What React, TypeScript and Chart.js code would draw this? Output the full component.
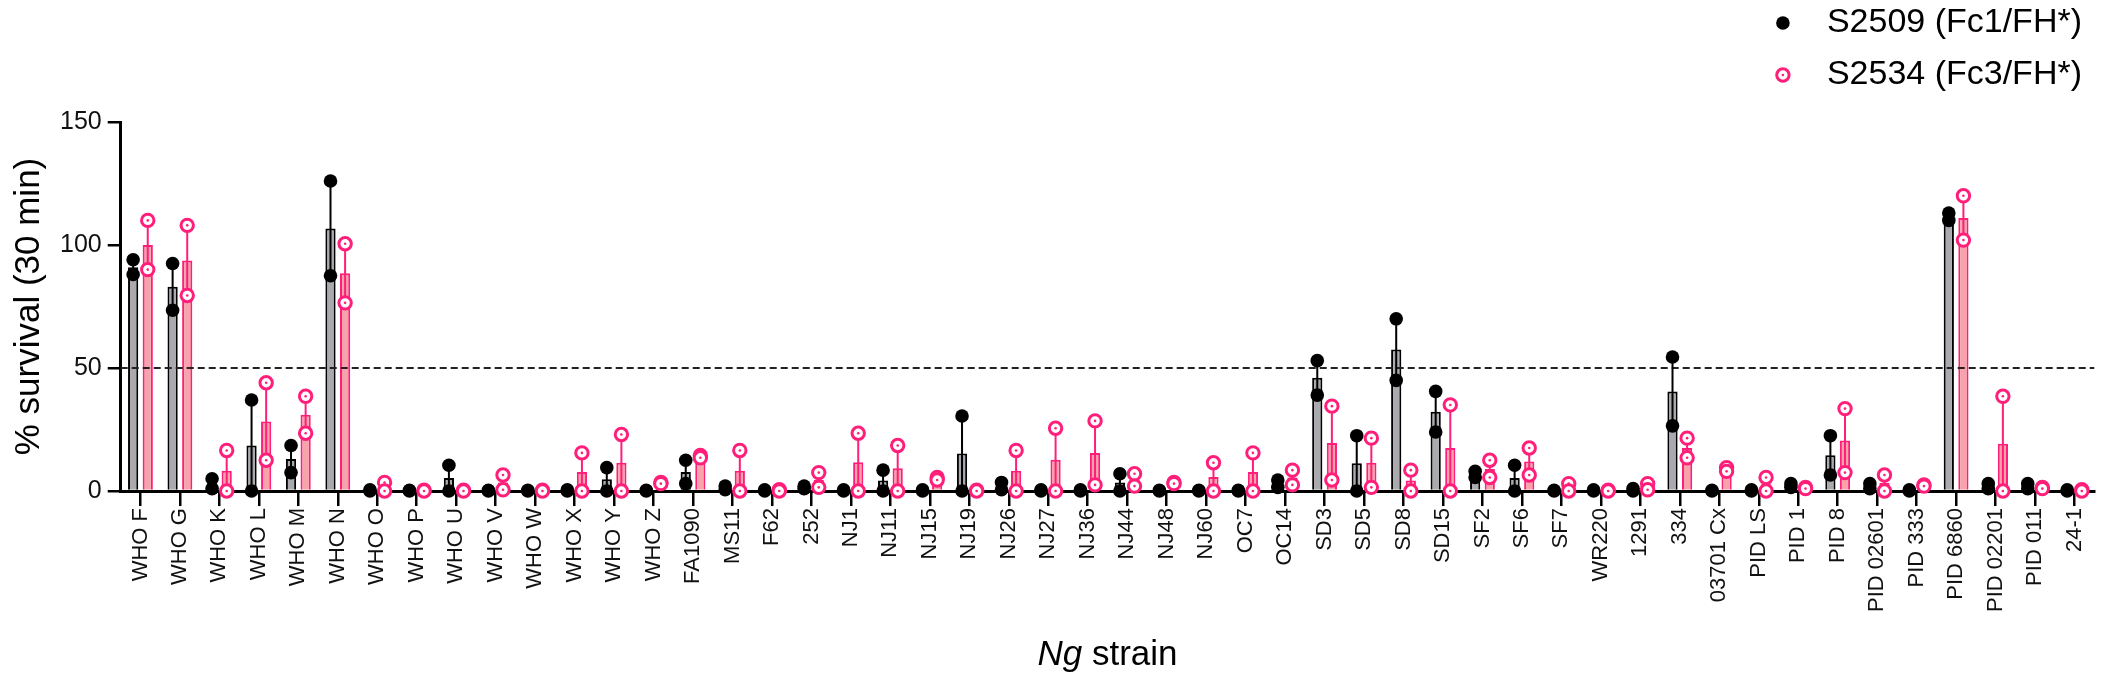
import { useEffect, useRef } from "react";
import { Chart, registerables } from "chart.js";

Chart.register(...registerables);

// Ng strains on the x axis
const strains = [
  "WHO F", "WHO G", "WHO K", "WHO L", "WHO M", "WHO N", "WHO O", "WHO P",
  "WHO U", "WHO V", "WHO W", "WHO X", "WHO Y", "WHO Z", "FA1090", "MS11",
  "F62", "252", "NJ1", "NJ11", "NJ15", "NJ19", "NJ26", "NJ27", "NJ36",
  "NJ44", "NJ48", "NJ60", "OC7", "OC14", "SD3", "SD5", "SD8", "SD15", "SF2",
  "SF6", "SF7", "WR220", "1291", "334", "03701 Cx", "PID LS", "PID 1",
  "PID 8", "PID 02601", "PID 333", "PID 6860", "PID 02201", "PID 011", "24-1",
];

// two replicates per strain, % survival at 30 min
const s2509Rep1 = [
  94, 92.5, 5, 37, 18.5, 126, 0.5, 0.3, 10.5, 0.3, 0.3, 0.5, 9.5, 0.3, 12.5, 2,
  0.5, 2, 0.5, 8.5, 0.5, 30.5, 3.5, 0.5, 0.5, 7, 0.3, 0.3, 0.3, 4.5, 53, 22.5,
  70, 40.5, 8, 10.5, 0.3, 0.5, 1, 54.5, 0.3, 0.5, 3, 22.5, 3, 0.5, 113, 3, 3, 0.5,
];
const s2509Rep2 = [
  88, 73.5, 1, 0, 7.5, 87.5, 0, 0, 0, 0, 0, 0, 0, 0, 3, 0.5,
  0, 1, 0, 0, 0, 0, 0.5, 0, 0, 0, 0, 0, 0, 1.5, 39, 0,
  45, 24, 5.5, 0, 0, 0, 0, 26.5, 0, 0, 1.5, 6.5, 1, 0, 110, 1, 1, 0,
];
const s2534Rep1 = [
  110, 108, 16.5, 44, 38.5, 100.5, 3.5, 0.3, 0.3, 6.5, 0.3, 15.5, 23, 3.5, 14.5, 16.5,
  0.5, 7.5, 23.5, 18.5, 5.5, 0.3, 16.5, 25.5, 28.5, 7, 3.5, 11.5, 15.5, 8.5, 34.5, 21.5,
  8.5, 35, 12.5, 17.5, 3, 0.3, 3, 21.5, 9.5, 5.5, 1.5, 33.5, 6.5, 2.5, 120, 38.5, 1.5, 0.5,
];
const s2534Rep2 = [
  90, 79.5, 0, 12.5, 23.5, 76.5, 0, 0, 0, 0.5, 0, 0, 0, 3, 13.5, 0,
  0, 1.5, 0, 0, 4.5, 0, 0, 0, 2.5, 2, 3, 0, 0, 2.5, 4.5, 1.5,
  0, 0, 5.5, 6.5, 0, 0, 0.5, 13.5, 8, 0, 1, 7.5, 0, 2, 102, 0, 1, 0,
];

const yTicks = [0, 50, 100, 150];
const threshold = 50;

const FONT = '"Liberation Sans", Arial, sans-serif';

const series = [
  {
    label: "S2509 (Fc1/FH*)",
    reps: [s2509Rep1, s2509Rep2],
    fill: "#a9a9ae",
    edge: "#000000",
    hollow: false,
  },
  {
    label: "S2534 (Fc3/FH*)",
    reps: [s2534Rep1, s2534Rep2],
    fill: "#f6a3aa",
    edge: "#ff1f7a",
    hollow: true,
  },
];

const mean = (a: number, b: number) => (a + b) / 2;
const sem = (a: number, b: number) => Math.abs(a - b) / 2;

function drawMarker(ctx: CanvasRenderingContext2D, x: number, y: number, s: (typeof series)[number]) {
  ctx.beginPath();
  if (s.hollow) {
    ctx.arc(x, y, 6.2, 0, Math.PI * 2);
    ctx.fillStyle = "#ffffff";
    ctx.fill();
    ctx.lineWidth = 3;
    ctx.strokeStyle = s.edge;
    ctx.stroke();
    ctx.beginPath();
    ctx.arc(x, y, 1.3, 0, Math.PI * 2);
    ctx.fillStyle = s.edge;
    ctx.fill();
  } else {
    ctx.arc(x, y, 6.8, 0, Math.PI * 2);
    ctx.fillStyle = s.edge;
    ctx.fill();
  }
}

const overlay = {
  id: "overlay",
  afterDatasetsDraw(chart: Chart) {
    const { ctx, chartArea } = chart;
    const y = chart.scales.y;

    // 50% threshold
    ctx.save();
    ctx.setLineDash([7, 4]);
    ctx.lineWidth = 2;
    ctx.strokeStyle = "#222";
    ctx.beginPath();
    ctx.moveTo(chartArea.left, y.getPixelForValue(threshold));
    ctx.lineTo(chartArea.right, y.getPixelForValue(threshold));
    ctx.stroke();
    ctx.restore();

    ctx.save();
    series.forEach((s, si) => {
      const meta = chart.getDatasetMeta(si);
      meta.data.forEach((bar: any, i: number) => {
        const a = s.reps[0][i];
        const b = s.reps[1][i];
        const m = mean(a, b);
        const e = sem(a, b);
        const top = y.getPixelForValue(m + e);
        const low = y.getPixelForValue(m - e);
        ctx.strokeStyle = s.edge;
        ctx.lineWidth = 2;
        ctx.beginPath();
        ctx.moveTo(bar.x, low);
        ctx.lineTo(bar.x, top);
        ctx.moveTo(bar.x - 4, top);
        ctx.lineTo(bar.x + 4, top);
        ctx.stroke();
      });
    });
    series.forEach((s, si) => {
      const meta = chart.getDatasetMeta(si);
      meta.data.forEach((bar: any, i: number) => {
        s.reps.forEach((rep) => drawMarker(ctx, bar.x, y.getPixelForValue(rep[i]), s));
      });
    });
    ctx.restore();
  },
  afterDraw(chart: Chart) {
    const { ctx, chartArea } = chart;
    ctx.save();

    // legend, top right
    ctx.font = `34px ${FONT}`;
    ctx.textBaseline = "middle";
    ctx.textAlign = "left";
    const widest = Math.max(...series.map((s) => ctx.measureText(s.label).width));
    const textX = chart.width - 21 - widest;
    series.forEach((s, i) => {
      const rowY = 23 + i * 52;
      drawMarker(ctx, textX - 44, rowY, s);
      ctx.fillStyle = "#000";
      ctx.font = `34px ${FONT}`;
      ctx.fillText(s.label, textX, rowY);
    });

    // x axis title with italic "Ng"
    const italic = `italic 35px ${FONT}`;
    const plain = `35px ${FONT}`;
    ctx.font = italic;
    const w1 = ctx.measureText("Ng").width;
    ctx.font = plain;
    const w2 = ctx.measureText(" strain").width;
    const cx = (chartArea.left + chartArea.right) / 2;
    const start = cx - (w1 + w2) / 2;
    const ty = chart.height - 26;
    ctx.fillStyle = "#000";
    ctx.font = italic;
    ctx.fillText("Ng", start, ty);
    ctx.font = plain;
    ctx.fillText(" strain", start + w1, ty);
    ctx.restore();
  },
};

export default function App() {
  const canvasRef = useRef<HTMLCanvasElement | null>(null);
  const chartRef = useRef<Chart | null>(null);

  useEffect(() => {
    document.body.style.margin = "0";
    if (!canvasRef.current) {
      return;
    }
    if (chartRef.current) {
      chartRef.current.destroy();
    }

    chartRef.current = new Chart(canvasRef.current, {
      type: "bar",
      data: {
        labels: strains,
        datasets: series.map((s) => ({
          label: s.label,
          data: s.reps[0].map((v, i) => mean(v, s.reps[1][i])),
          backgroundColor: s.fill,
          borderColor: s.edge,
          borderWidth: 2,
          categoryPercentage: 0.74,
          barPercentage: 0.7,
        })),
      },
      options: {
        animation: false,
        responsive: true,
        maintainAspectRatio: false,
        devicePixelRatio: 1,
        layout: { padding: { top: 122, right: 8, bottom: 67, left: 8 } },
        plugins: {
          legend: { display: false },
          tooltip: { enabled: false },
        },
        scales: {
          x: {
            grid: {
              display: true,
              offset: false,
              drawOnChartArea: false,
              drawTicks: true,
              tickLength: 15,
              color: "#000",
              lineWidth: 2.5,
            },
            border: { display: true, color: "#000", width: 3 },
            ticks: {
              autoSkip: false,
              minRotation: 90,
              maxRotation: 90,
              padding: 2,
              color: "#111",
              font: { family: FONT, size: 22 },
            },
          },
          y: {
            min: 0,
            max: 150,
            afterBuildTicks: (axis: any) => {
              axis.ticks = yTicks.map((v) => ({ value: v }));
            },
            grid: {
              display: true,
              drawOnChartArea: false,
              drawTicks: true,
              tickLength: 13,
              color: "#000",
              lineWidth: 2.5,
            },
            border: { display: true, color: "#000", width: 3 },
            ticks: {
              padding: 6,
              color: "#111",
              font: { family: FONT, size: 25 },
            },
            title: {
              display: true,
              text: "% survival (30 min)",
              color: "#000",
              padding: { top: 0, bottom: 4 },
              font: { family: FONT, size: 35 },
            },
          },
        },
      },
      plugins: [overlay],
    });

    return () => {
      chartRef.current?.destroy();
    };
  }, []);

  return (
    <div style={{ position: "relative", width: 2103, height: 681 }}>
      <canvas ref={canvasRef} />
    </div>
  );
}
